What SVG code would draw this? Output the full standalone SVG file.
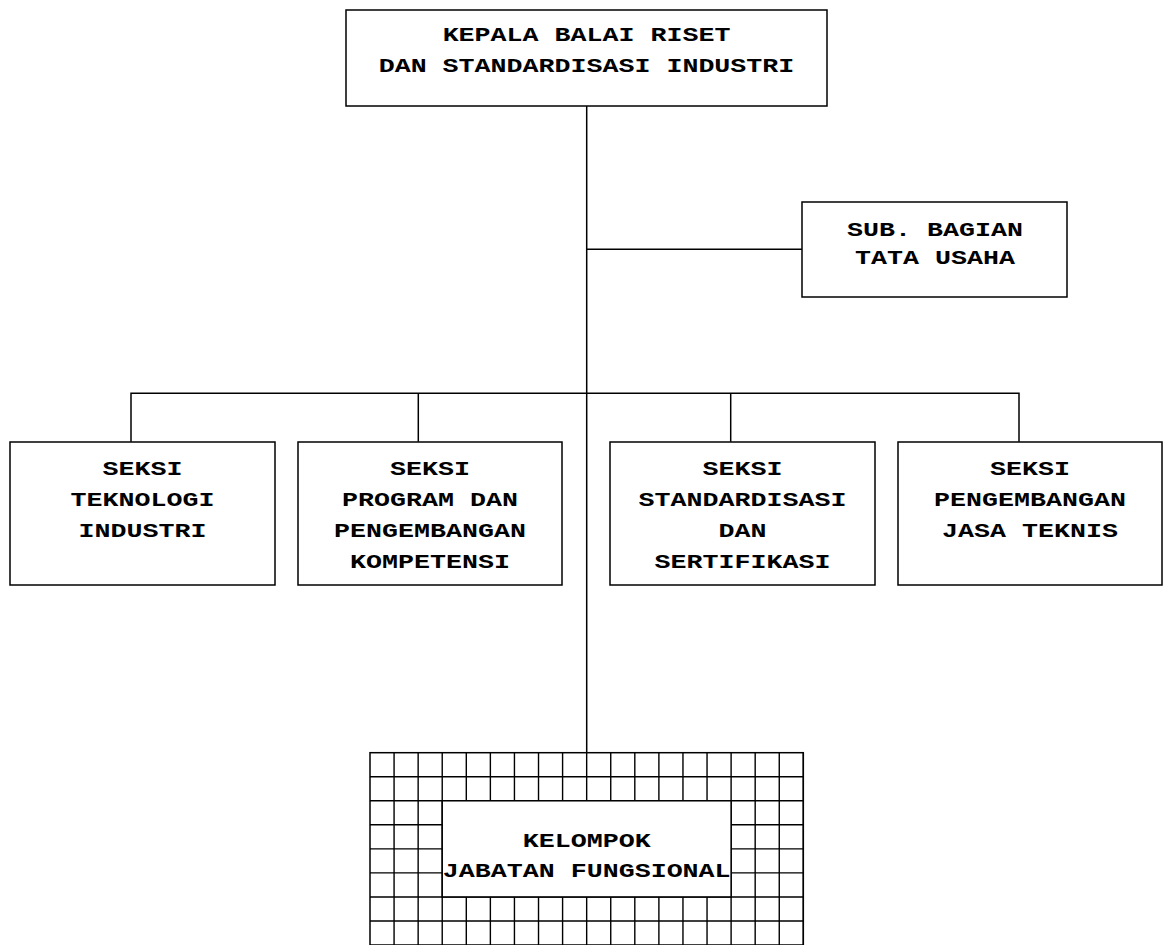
<svg xmlns="http://www.w3.org/2000/svg" width="1167" height="945" viewBox="0 0 1167 945">
  <style>
    .box { fill: #ffffff; stroke: #000000; stroke-width: 1.5; }
    .ln { fill: none; stroke: #000000; stroke-width: 1.5; }
    .grid { fill: none; stroke: #000000; stroke-width: 1.4; }
    .t { font-family: "Liberation Mono", "DejaVu Sans Mono", monospace; font-weight: bold; font-size: 20px; text-anchor: middle; fill: #000000; }
  </style>
  <rect width="1167" height="945" fill="#ffffff"/>

  <g id="connectors">
    <path class="ln" d="M586.7 106 V752.7"/>
    <path class="ln" d="M586.7 249.3 H802"/>
    <path class="ln" d="M131 441.7 V393.3 H1019 V441.7"/>
    <path class="ln" d="M418.3 393.3 V441.7"/>
    <path class="ln" d="M730.7 393.3 V441.7"/>
  </g>

  <g id="kepala">
    <rect class="box" x="346" y="10" width="481" height="96"/>
    <text class="t" transform="translate(586.5 0) scale(1.333 1)"><tspan x="0" y="41">KEPALA BALAI RISET</tspan><tspan x="0" y="72">DAN STANDARDISASI INDUSTRI</tspan></text>
  </g>

  <g id="subbagian">
    <rect class="box" x="802" y="202" width="265" height="95"/>
    <text class="t" transform="translate(935 0) scale(1.333 1)"><tspan x="0" y="236">SUB. BAGIAN</tspan><tspan x="0" y="264">TATA USAHA</tspan></text>
  </g>

  <g id="seksi-teknologi">
    <rect class="box" x="10" y="442" width="265" height="143"/>
    <text class="t" transform="translate(142.5 0) scale(1.333 1)"><tspan x="0" y="475">SEKSI</tspan><tspan x="0" y="506">TEKNOLOGI</tspan><tspan x="0" y="537">INDUSTRI</tspan></text>
  </g>

  <g id="seksi-program">
    <rect class="box" x="298" y="442" width="264" height="143"/>
    <text class="t" transform="translate(430 0) scale(1.333 1)"><tspan x="0" y="475">SEKSI</tspan><tspan x="0" y="506">PROGRAM DAN</tspan><tspan x="0" y="537">PENGEMBANGAN</tspan><tspan x="0" y="568">KOMPETENSI</tspan></text>
  </g>

  <g id="seksi-standardisasi">
    <rect class="box" x="610" y="442" width="265" height="143"/>
    <text class="t" transform="translate(742.5 0) scale(1.333 1)"><tspan x="0" y="475">SEKSI</tspan><tspan x="0" y="506">STANDARDISASI</tspan><tspan x="0" y="537">DAN</tspan><tspan x="0" y="568">SERTIFIKASI</tspan></text>
  </g>

  <g id="seksi-jasa">
    <rect class="box" x="898" y="442" width="264" height="143"/>
    <text class="t" transform="translate(1030 0) scale(1.333 1)"><tspan x="0" y="475">SEKSI</tspan><tspan x="0" y="506">PENGEMBANGAN</tspan><tspan x="0" y="537">JASA TEKNIS</tspan></text>
  </g>

  <g id="kelompok-fungsional">
    <rect class="box" x="370" y="752.7" width="433.3" height="200"/>
    <path class="grid" d="M394.07 752.7V950M418.15 752.7V950M442.22 752.7V950M466.3 752.7V950M490.37 752.7V950M514.44 752.7V950M538.52 752.7V950M562.59 752.7V950M586.67 752.7V950M610.74 752.7V950M634.81 752.7V950M658.89 752.7V950M682.96 752.7V950M707.04 752.7V950M731.11 752.7V950M755.18 752.7V950M779.26 752.7V950M803.33 752.7V950"/>
    <path class="grid" d="M370 776.74H803.33M370 800.78H803.33M370 824.82H803.33M370 848.86H803.33M370 872.9H803.33M370 896.94H803.33M370 920.98H803.33M370 945.02H803.33"/>
    <rect class="box" x="442.22" y="800.78" width="288.89" height="96.16"/>
    <text class="t" transform="translate(586.7 0) scale(1.333 1)"><tspan x="0" y="847.5">KELOMPOK</tspan><tspan x="0" y="876.7">JABATAN FUNGSIONAL</tspan></text>
  </g>
</svg>
